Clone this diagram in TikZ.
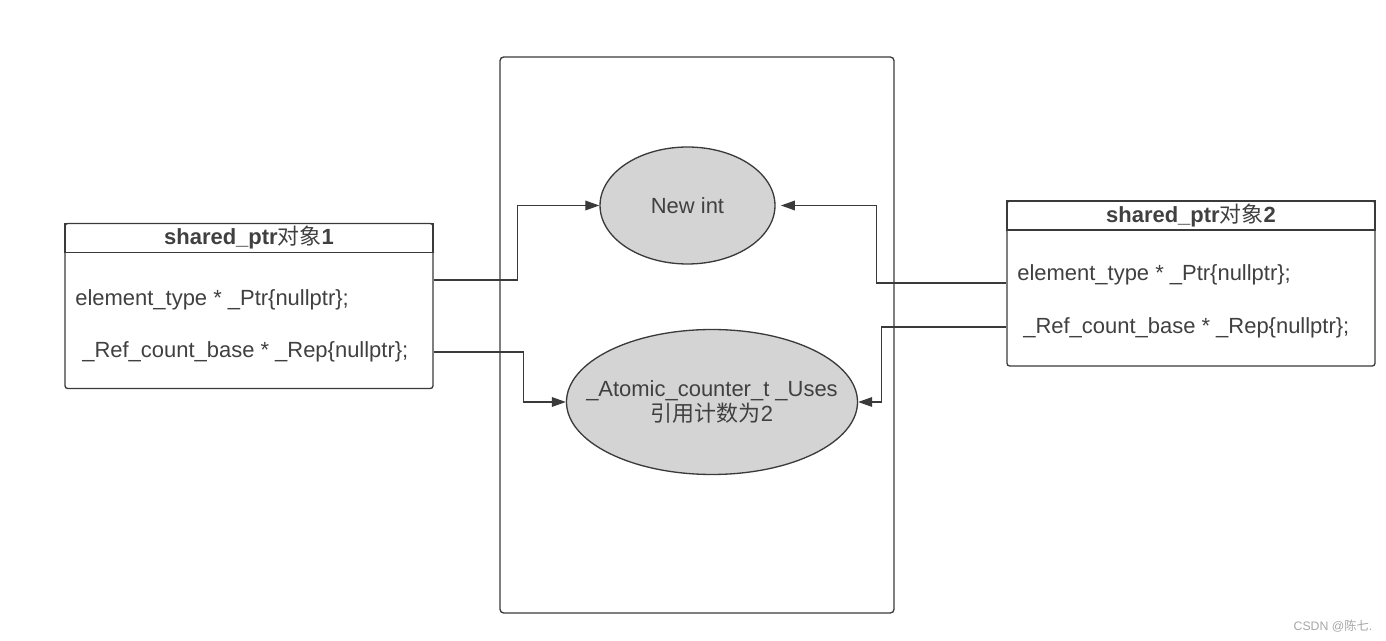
\documentclass[tikz,border=0pt]{standalone}
\usepackage{fontspec}
\setmainfont{Liberation Sans}
\newfontfamily\cjk{Noto Sans CJK SC}
\usetikzlibrary{shapes.geometric,arrows.meta,positioning}
\definecolor{linegray}{HTML}{3A3A3A}
\definecolor{textgray}{HTML}{404040}
\definecolor{ovalfill}{HTML}{D4D4D4}
\tikzset{/uml/object/.style={rectangle, draw=linegray, line width=0.75pt, rounded corners=1.5pt, minimum width=7.36cm, minimum height=3.3cm, inner sep=0pt
}}
\tikzset{/uml/header/.style={rectangle, draw=linegray, line width=0.75pt, minimum width=7.36cm, minimum height=0.58cm, inner sep=0pt, anchor=north, font=\bfseries
}}
\tikzset{/uml/field/.style={anchor=west, inner sep=0pt
}}
\tikzset{/uml/oval/.style={ellipse, draw=linegray, line width=0.75pt, fill=ovalfill, inner sep=0pt, align=center
}}
\tikzset{/uml/link/.style={draw=linegray, line width=0.75pt, -{Triangle[length=8pt,width=5.5pt]}
}}

\begin{document}
\begin{tikzpicture}[x=0.02cm, y=-0.02cm, node font=\fontsize{12.5}{14.5}\selectfont, every node/.append style={text=textgray}]
		\useasboundingbox (0,0) rectangle (1386,641);
		% shared block
		\node[draw=linegray, line width=0.75pt, rounded corners=2pt, minimum width=7.88cm, minimum height=11.12cm] (heap) at (697,335) {};
		\node[/uml/oval, minimum width=3.5cm, minimum height=2.34cm] (newint) at (687.5,205.5) {New int};
		\node[/uml/oval, inner xsep=-13pt, minimum width=5.8cm, minimum height=2.9cm] (uses) at (712,402) {\_Atomic\_counter\_t \_Uses\\{\cjk 引用计数为}2};

		% first shared_ptr
		\node[/uml/object] (obj1) at (249,306) {};
		\node[/uml/header] (obj1-head) at (obj1.north) {shared\_ptr{\cjk\mdseries 对象}1};
		\node[/uml/field] (obj1-ptr) at (75,300) {element\_type * \_Ptr\{nullptr\};};
		\node[/uml/field] (obj1-rep) at (82,352) {\_Ref\_count\_base * \_Rep\{nullptr\};};

		% second shared_ptr
		\node[/uml/object] (obj2) at (1191,283.5) {};
		\node[/uml/header] (obj2-head) at (obj2.north) {shared\_ptr{\cjk\mdseries 对象}2};
		\node[/uml/field] (obj2-ptr) at (1017,275) {element\_type * \_Ptr\{nullptr\};};
		\node[/uml/field] (obj2-rep) at (1023,328) {\_Ref\_count\_base * \_Rep\{nullptr\};};

		\coordinate (obj1-ptrout) at (obj1.east |- 0,280);
		\coordinate (obj1-repout) at (obj1.east |- 0,352);
		\coordinate (obj2-ptrout) at (obj2.west |- 0,283);
		\coordinate (obj2-repout) at (obj2.west |- 0,327);

		\draw[/uml/link] (obj1-ptrout) -- ++(84,0) |- (newint.west);
		\draw[/uml/link] (obj1-repout) -- ++(90,0) |- (uses.west);
		\draw[/uml/link, shorten >=3pt] (obj2-ptrout) -- ++(-130,0) |- (newint.east);
		\draw[/uml/link] (obj2-repout) -- ++(-125,0) |- (uses.east);

		\node[font=\fontsize{7}{8}\selectfont, text=gray!70] (mark) at (1333,626) {CSDN @{\cjk 陈七}.};
	\end{tikzpicture}
\end{document}
